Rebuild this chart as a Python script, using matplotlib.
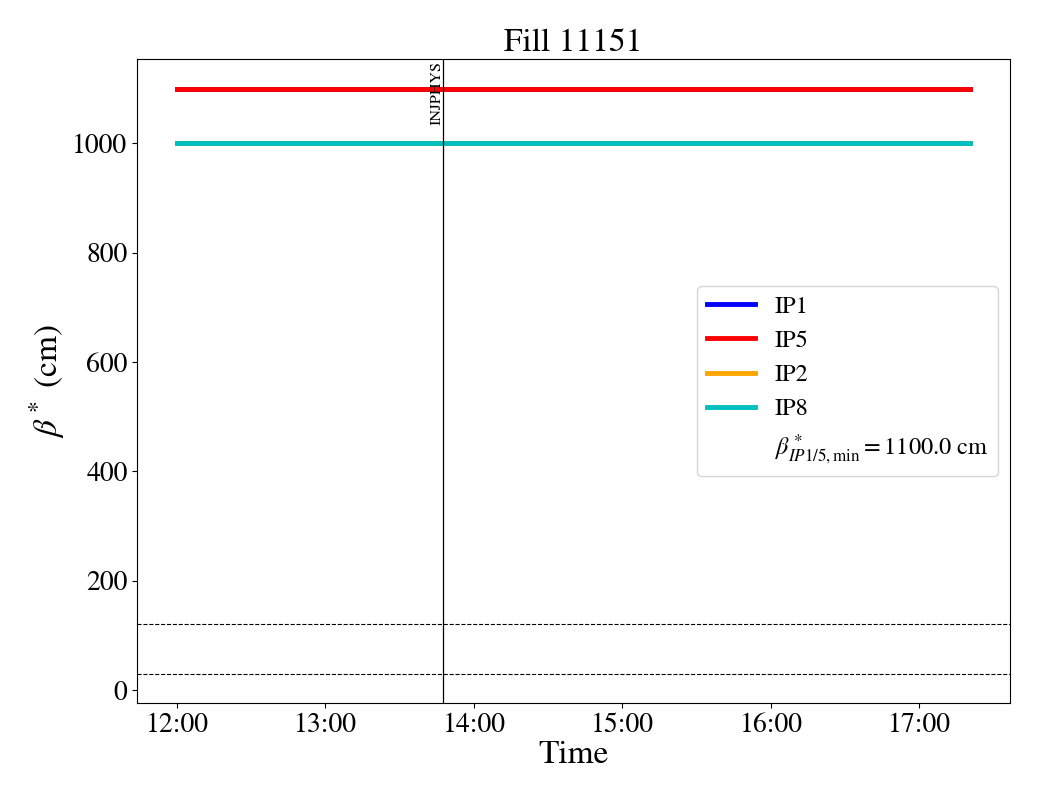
import datetime as dt

import matplotlib
matplotlib.use('Agg')
import matplotlib.pyplot as plt
import matplotlib.dates as mdates

plt.rcParams['font.family'] = 'STIXGeneral'
plt.rcParams['mathtext.fontset'] = 'stix'

FILL = 11151
t_start = dt.datetime(2025, 7, 1, 12, 0)
t_end = dt.datetime(2025, 7, 1, 17, 20, 30)
t_injphys = dt.datetime(2025, 7, 1, 13, 47, 40)

times = [t_start, t_end]
ip_names = ['IP1', 'IP5', 'IP2', 'IP8']
ip_colors = ['blue', 'red', 'orange', 'c']
beta_star = {'IP1': [1100, 1100], 'IP5': [1100, 1100],
             'IP2': [1000, 1000], 'IP8': [1000, 1000]}
beta_min = 1100.0
ref_levels = [120, 30]

fig = plt.figure(figsize=(10.4, 8), dpi=100)
ax = fig.add_axes([0.132, 0.121, 0.839, 0.805])

for name, col in zip(ip_names, ip_colors):
    ax.plot(times, beta_star[name], color=col, lw=3.5, label=name)
ax.plot([], [], color='none',
        label=r'$\beta^*_{IP1/5,\mathrm{min}} = $' + f'{beta_min:.1f} cm')

for lv in ref_levels:
    ax.axhline(lv, color='k', ls='--', lw=0.8)

ax.axvline(t_injphys, color='k', lw=0.9)
ax.set_ylim(-24, 1154)
ax.text(t_injphys, 1150, 'INJPHYS', rotation=90, ha='right', va='top', fontsize=11.5)

ax.xaxis.set_major_formatter(mdates.DateFormatter('%H:%M'))
ax.xaxis.set_major_locator(mdates.HourLocator())
ax.tick_params(labelsize=20)
ax.set_xlabel('Time', fontsize=24, labelpad=2)
ax.set_ylabel(r'$\beta^*$ (cm)', fontsize=24)
ax.set_title(f'Fill {FILL}', fontsize=24)
ax.legend(fontsize=17.5, loc='center right', bbox_to_anchor=(1.0, 0.5))

fig.savefig('out.png', dpi=100)
